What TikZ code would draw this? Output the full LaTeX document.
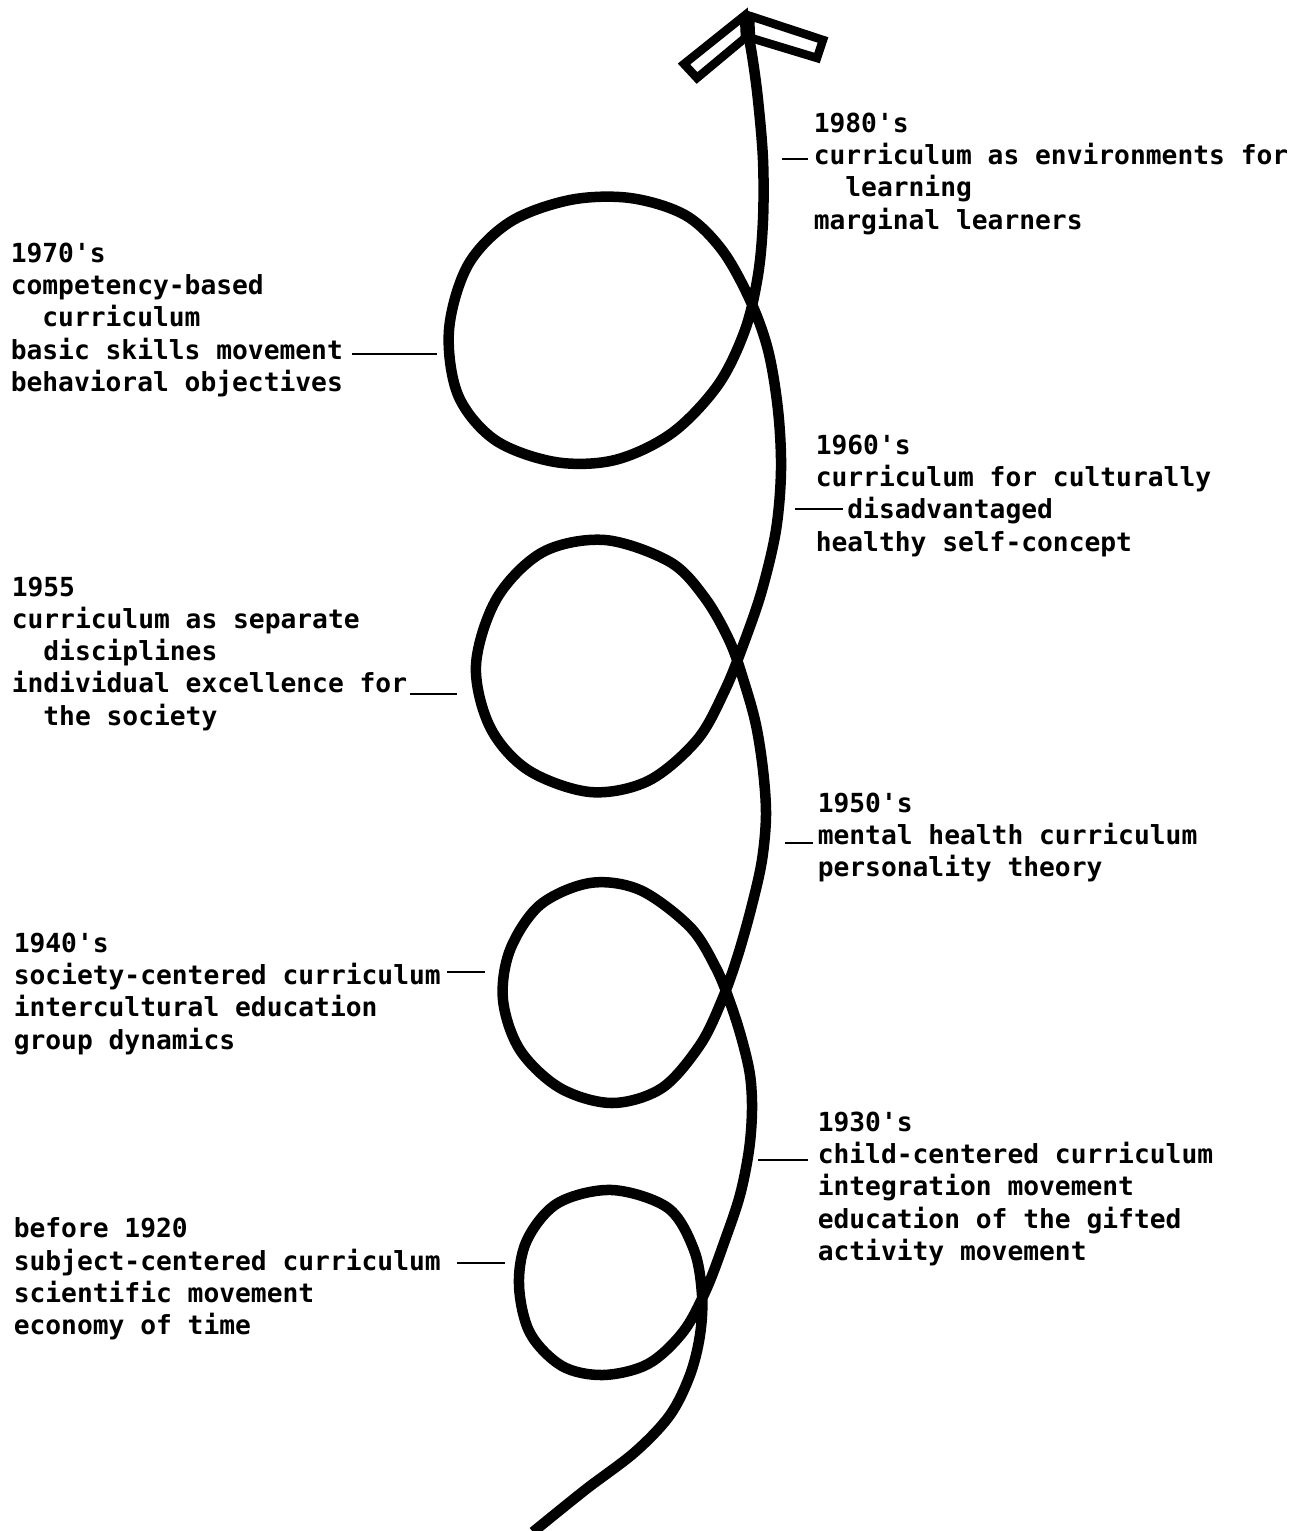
\documentclass[tikz,border=0pt]{standalone}
\usepackage{fontspec}
\setmonofont{DejaVu Sans Mono}
\tikzset{
  every picture/.style={line width=1pt},
  era/.style={font=\ttfamily\bfseries\fontsize{7.47pt}{9.18pt}\selectfont, align=left, anchor=north west, inner sep=0pt},
  tick/.style={draw=black, line width=0.22mm},
  spiral/.style={draw=black, line width=1.05mm, line join=round},
  barb/.style={draw=black, line width=0.85mm, line join=miter},
}
\newcommand{\indnt}{\hphantom{xx}}

\begin{document}
\begin{tikzpicture}[x=0.01cm, y=-0.01cm]
  \path[use as bounding box, fill=white] (0,0) rectangle (1294,1531);
  % the looping line, from the bottom up
  \draw[spiral] plot[smooth, tension=0.55] coordinates {
    (533,1532) (585,1490) (635,1452) (670,1415) (690,1375) (700,1335) (702,1295)
    (694,1250) (668,1208) (612,1190) (558,1203) (527,1240) (519,1285) (530,1333)
    (562,1366) (603,1375) (648,1364) (683,1332) (706,1290) (725,1240) (740,1195)
    (749,1150) (752,1110) (750,1075) (742,1040) (731,1005) (716,968) (690,927)
    (640,890) (590,883) (540,905) (510,950) (503,1000) (520,1050) (560,1088)
    (612,1103) (662,1088) (700,1045) (722,1000) (738,955) (752,905) (762,860)
    (766,815) (763,770) (756,725) (745,685) (730,642) (705,598) (670,562)
    (605,540) (543,552) (497,598) (476,665) (490,727) (528,770) (590,792)
    (648,781) (697,740) (725,690) (745,640) (762,590) (776,530) (781,470)
    (778,410) (768,350) (750,300) (722,250) (685,215) (630,198) (570,200)
    (510,222) (468,265) (449,330) (458,395) (495,440) (555,462) (615,460)
    (672,433) (718,385) (745,330) (758,275) (763,220) (763,160) (758,100)
    (752,55) (745,18)};
  % open arrow head
  \draw[barb] (744,16) -- (684,64) -- (697,78) -- (745,38) -- cycle;
  \draw[barb] (750,16) -- (823,40) -- (817,58) -- (751,38) -- cycle;
  % left side
  \node[era] (e70) at (9,241) {1970's\\competency-based\\\indnt curriculum\\basic skills movement\\behavioral objectives};
  \node[era] (e55) at (10,575) {1955\\curriculum as separate\\\indnt disciplines\\individual excellence for\\\indnt the society};
  \node[era] (e40) at (12,931) {1940's\\society-centered curriculum\\intercultural education\\group dynamics};
  \node[era] (e20) at (12,1216) {before 1920\\subject-centered curriculum\\scientific movement\\economy of time};
  % right side
  \node[era] (e80) at (812,111) {1980's\\curriculum as environments for\\\indnt learning\\marginal learners};
  \node[era] (e60) at (814,433) {1960's\\curriculum for culturally\\\indnt disadvantaged\\healthy self-concept};
  \node[era] (e50) at (816,791) {1950's\\mental health curriculum\\personality theory};
  \node[era] (e30) at (816,1110) {1930's\\child-centered curriculum\\integration movement\\education of the gifted\\activity movement};
  % short lines to the loops
  \foreach \n/\a/\b/\y in {70/352/437/354, 55/410/457/694, 40/447/485/972, 20/457/505/1263,
                           80/782/808/159, 60/795/843/509, 50/785/813/843, 30/758/808/1160} {
    \coordinate (k\n a) at (\a,\y);
    \coordinate (k\n b) at (\b,\y);
    \draw[tick] (k\n a) -- (k\n b);
  }
\end{tikzpicture}
\end{document}
